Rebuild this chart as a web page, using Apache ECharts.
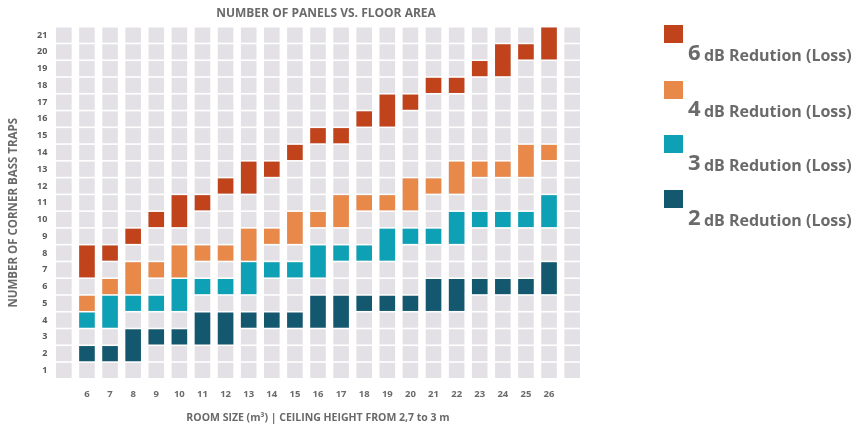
<!DOCTYPE html>
<html>
<head>
<meta charset="utf-8">
<script src="https://cdn.jsdelivr.net/npm/echarts@6/dist/echarts.min.js"></script>
<style>
  html, body { margin: 0; padding: 0; background: #ffffff; }
  #chart { width: 856px; height: 425px; }
</style>
</head>
<body>
<div id="chart"></div>
<script>
// Room sizes (m³) shown on the x axis; blank columns at both ends
const roomSizes = ['6','7','8','9','10','11','12','13','14','15','16','17','18','19','20','21','22','23','24','25','26'];
const xLabels = [''].concat(roomSizes, ['']);
// Number of corner bass traps (y axis tick labels)
const yLabels = ['1','2','3','4','5','6','7','8','9','10','11','12','13','14','15','16','17','18','19','20','21'];

// [from, to] number of traps for each room size, per reduction level
const db6 = [[7,8],[8,8],[9,9],[10,10],[10,11],[11,11],[12,12],[12,13],[13,13],[14,14],[15,15],[15,15],[16,16],[16,17],[17,17],[18,18],[18,18],[19,19],[19,20],[20,20],[20,21]];
const db4 = [[5,5],[6,6],[6,7],[7,7],[7,8],[8,8],[8,8],[8,9],[9,9],[9,10],[10,10],[10,11],[11,11],[11,11],[11,12],[12,12],[12,13],[13,13],[13,13],[13,14],[14,14]];
const db3 = [[4,4],[4,5],[5,5],[5,5],[5,6],[6,6],[6,6],[6,7],[7,7],[7,7],[7,8],[8,8],[8,8],[8,9],[9,9],[9,9],[9,10],[10,10],[10,10],[10,10],[10,11]];
const db2 = [[2,2],[2,2],[2,3],[3,3],[3,3],[3,4],[3,4],[4,4],[4,4],[4,4],[4,5],[4,5],[5,5],[5,5],[5,5],[5,6],[5,6],[6,6],[6,6],[6,6],[6,7]];

const seriesNames = ['6 dB Redution (Loss)', '4 dB Redution (Loss)', '3 dB Redution (Loss)', '2 dB Redution (Loss)'];
const seriesColors = ['#c0431b', '#e8894a', '#0ea1b6', '#13586f'];
const seriesRanges = [db6, db4, db3, db2];

const FONT = '"Open Sans", "DejaVu Sans", sans-serif';
const TXT = '#6a6a6a';
const CELL_W = 0.675;
const GAP_Y = 1.6;

function toBlocks(ranges) {
  return ranges.map((r, i) => [i + 1, yLabels.indexOf(String(r[0])), yLabels.indexOf(String(r[1]))]);
}

function renderBlock(params, api) {
  const x = api.value(0), lo = api.value(1), hi = api.value(2);
  const px = api.size([1, 0])[0];
  const py = api.size([0, 1])[1];
  const w = px * CELL_W;
  const cLo = api.coord([x, lo]);
  const cHi = api.coord([x, hi]);
  const top = cHi[1] - py / 2 + GAP_Y / 2;
  const bot = cLo[1] + py / 2 - GAP_Y / 2;
  return {
    type: 'rect',
    shape: { x: cLo[0] - w / 2, y: top, width: w, height: bot - top },
    style: { fill: api.visual('color') }
  };
}

const bgData = [];
for (let i = 0; i < xLabels.length; i++) {
  for (let j = 0; j < yLabels.length; j++) bgData.push([i, j, j]);
}

const series = [{
  type: 'custom',
  name: 'bg',
  silent: true,
  renderItem: renderBlock,
  itemStyle: { color: '#e3e1e5' },
  encode: { x: 0, y: [1, 2] },
  data: bgData,
  z: 1
}];
seriesRanges.forEach((r, k) => {
  series.push({
    type: 'custom',
    name: seriesNames[k],
    renderItem: renderBlock,
    itemStyle: { color: seriesColors[k] },
    encode: { x: 0, y: [1, 2] },
    data: toBlocks(r),
    z: 2
  });
});

const legendTops = [25, 81, 135, 190];
const legends = seriesNames.map((n, k) => ({
  data: [n],
  left: 664,
  top: legendTops[k],
  orient: 'vertical',
  padding: 0,
  icon: 'rect',
  itemWidth: 19,
  itemHeight: 18,
  itemGap: 0,
  itemTextGap: -1,
  selectedMode: false,
  formatter: function (name) {
    const i = name.indexOf(' ');
    return '{n|' + name.slice(0, i) + '} {t|' + name.slice(i + 1) + '}';
  },
  textStyle: {
    padding: [37, 0, 0, 0],
    rich: {
      n: { fontSize: 22, fontWeight: 'bold', color: TXT, fontFamily: FONT, lineHeight: 24, verticalAlign: 'bottom' },
      t: { fontSize: 16, fontWeight: 'bold', color: TXT, fontFamily: FONT, lineHeight: 24, verticalAlign: 'bottom' }
    }
  }
}));

const chart = echarts.init(document.getElementById('chart'), null, { renderer: 'canvas' });
chart.setOption({
  animation: false,
  backgroundColor: '#ffffff',
  title: {
    text: 'NUMBER OF PANELS VS. FLOOR AREA',
    left: 321,
    top: 3,
    textAlign: 'center',
    textStyle: { fontSize: 12, fontWeight: 'bold', color: TXT, fontFamily: FONT }
  },
  legend: legends,
  grid: { left: 52.3, right: 272.3, top: 26.7, bottom: 46.2, containLabel: false, outerBoundsMode: 'none' },
  xAxis: {
    type: 'category',
    data: xLabels,
    boundaryGap: true,
    axisLine: { show: false },
    axisTick: { show: false },
    splitLine: { show: false },
    axisLabel: { interval: 0, margin: 10, fontSize: 9.5, fontWeight: 'bold', color: TXT, fontFamily: FONT },
    name: 'ROOM SIZE (m³) | CEILING HEIGHT FROM 2,7 to 3 m',
    nameLocation: 'middle',
    nameGap: 34,
    nameTextStyle: { fontSize: 10.5, fontWeight: 'bold', color: TXT, fontFamily: FONT }
  },
  yAxis: {
    type: 'category',
    data: yLabels,
    boundaryGap: true,
    axisLine: { show: false },
    axisTick: { show: false },
    splitLine: { show: false },
    axisLabel: { interval: 0, margin: 5, fontSize: 9, fontWeight: 'bold', color: '#5a5a5a', fontFamily: FONT },
    name: 'NUMBER OF CORNER BASS TRAPS',
    nameLocation: 'middle',
    nameGap: 33,
    nameTextStyle: { fontSize: 11.5, fontWeight: 'bold', color: TXT, fontFamily: FONT, padding: [0, 20, 0, 0] }
  },
  series: series
});
</script>
</body>
</html>
